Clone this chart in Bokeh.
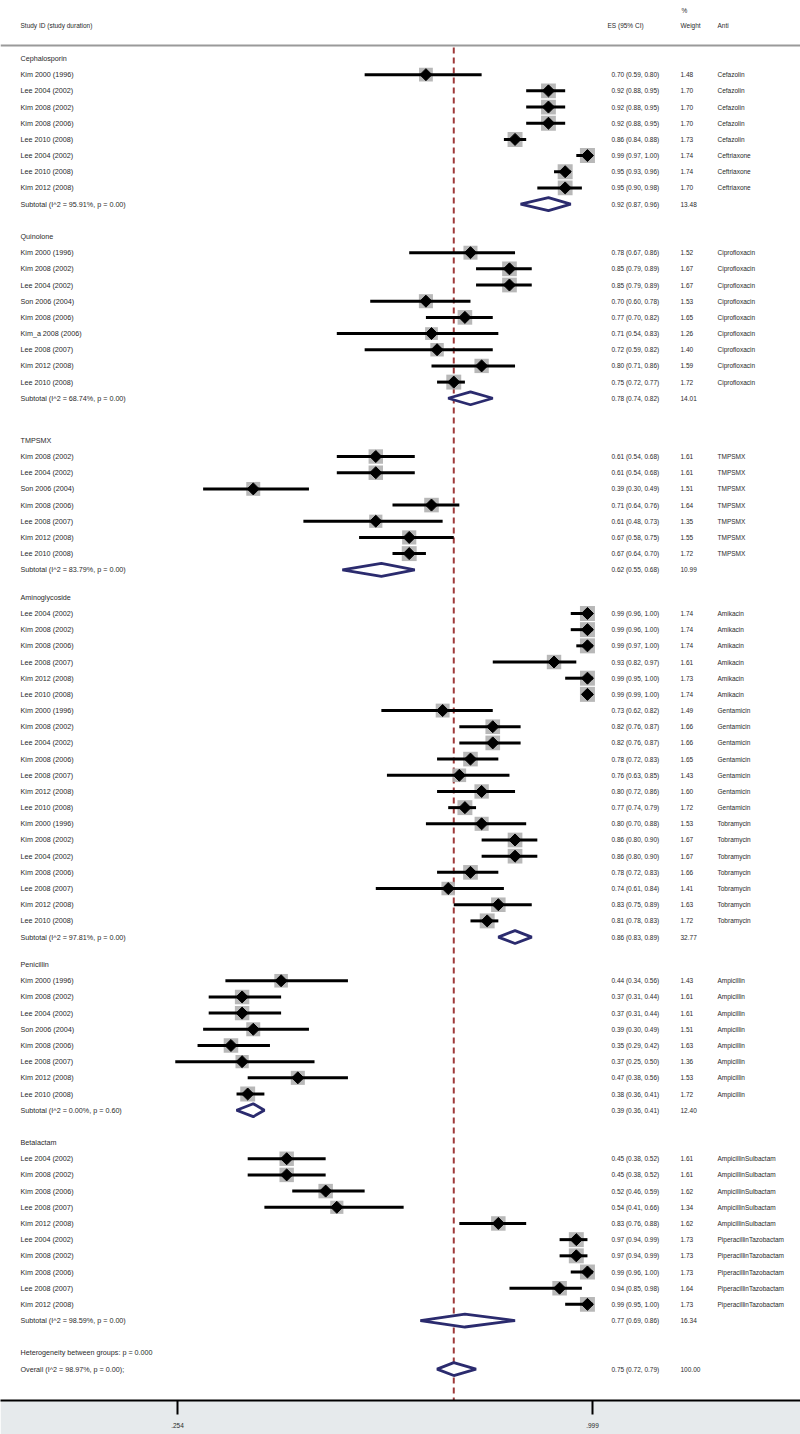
import math
from bokeh.plotting import figure
from bokeh.models import Range1d, FixedTicker, ColumnDataSource, Span
from bokeh.core.properties import value
from bokeh.embed import file_html
from bokeh.resources import INLINE

# ---------------- data ----------------
groups = ["Cephalosporin", "Quinolone", "TMPSMX", "Aminoglycoside", "Penicillin", "Betalactam"]

study_group = (["Cephalosporin"] * 8 + ["Quinolone"] * 9 + ["TMPSMX"] * 7 +
               ["Aminoglycoside"] * 20 + ["Penicillin"] * 8 + ["Betalactam"] * 10)

study_id = [
    "Kim 2000 (1996)", "Lee 2004 (2002)", "Kim 2008 (2002)", "Kim 2008 (2006)",
    "Lee 2010 (2008)", "Lee 2004 (2002)", "Lee 2010 (2008)", "Kim 2012 (2008)",
    "Kim 2000 (1996)", "Kim 2008 (2002)", "Lee 2004 (2002)", "Son 2006 (2004)",
    "Kim 2008 (2006)", "Kim_a 2008 (2006)", "Lee 2008 (2007)", "Kim 2012 (2008)",
    "Lee 2010 (2008)",
    "Kim 2008 (2002)", "Lee 2004 (2002)", "Son 2006 (2004)", "Kim 2008 (2006)",
    "Lee 2008 (2007)", "Kim 2012 (2008)", "Lee 2010 (2008)",
    "Lee 2004 (2002)", "Kim 2008 (2002)", "Kim 2008 (2006)", "Lee 2008 (2007)",
    "Kim 2012 (2008)", "Lee 2010 (2008)", "Kim 2000 (1996)", "Kim 2008 (2002)",
    "Lee 2004 (2002)", "Kim 2008 (2006)", "Lee 2008 (2007)", "Kim 2012 (2008)",
    "Lee 2010 (2008)", "Kim 2000 (1996)", "Kim 2008 (2002)", "Lee 2004 (2002)",
    "Kim 2008 (2006)", "Lee 2008 (2007)", "Kim 2012 (2008)", "Lee 2010 (2008)",
    "Kim 2000 (1996)", "Kim 2008 (2002)", "Lee 2004 (2002)", "Son 2006 (2004)",
    "Kim 2008 (2006)", "Lee 2008 (2007)", "Kim 2012 (2008)", "Lee 2010 (2008)",
    "Lee 2004 (2002)", "Kim 2008 (2002)", "Kim 2008 (2006)", "Lee 2008 (2007)",
    "Kim 2012 (2008)", "Lee 2004 (2002)", "Kim 2008 (2002)", "Kim 2008 (2006)",
    "Lee 2008 (2007)", "Kim 2012 (2008)",
]

study_es = [
    0.70, 0.92, 0.92, 0.92, 0.86, 0.99, 0.95, 0.95,
    0.78, 0.85, 0.85, 0.70, 0.77, 0.71, 0.72, 0.80, 0.75,
    0.61, 0.61, 0.39, 0.71, 0.61, 0.67, 0.67,
    0.99, 0.99, 0.99, 0.93, 0.99, 0.99, 0.73, 0.82, 0.82, 0.78, 0.76, 0.80, 0.77,
    0.80, 0.86, 0.86, 0.78, 0.74, 0.83, 0.81,
    0.44, 0.37, 0.37, 0.39, 0.35, 0.37, 0.47, 0.38,
    0.45, 0.45, 0.52, 0.54, 0.83, 0.97, 0.97, 0.99, 0.94, 0.99,
]
study_lo = [
    0.59, 0.88, 0.88, 0.88, 0.84, 0.97, 0.93, 0.90,
    0.67, 0.79, 0.79, 0.60, 0.70, 0.54, 0.59, 0.71, 0.72,
    0.54, 0.54, 0.30, 0.64, 0.48, 0.58, 0.64,
    0.96, 0.96, 0.97, 0.82, 0.95, 0.99, 0.62, 0.76, 0.76, 0.72, 0.63, 0.72, 0.74,
    0.70, 0.80, 0.80, 0.72, 0.61, 0.75, 0.78,
    0.34, 0.31, 0.31, 0.30, 0.29, 0.25, 0.38, 0.36,
    0.38, 0.38, 0.46, 0.41, 0.76, 0.94, 0.94, 0.96, 0.85, 0.95,
]
study_hi = [
    0.80, 0.95, 0.95, 0.95, 0.88, 1.00, 0.96, 0.98,
    0.86, 0.89, 0.89, 0.78, 0.82, 0.83, 0.82, 0.86, 0.77,
    0.68, 0.68, 0.49, 0.76, 0.73, 0.75, 0.70,
    1.00, 1.00, 1.00, 0.97, 1.00, 1.00, 0.82, 0.87, 0.87, 0.83, 0.85, 0.86, 0.79,
    0.88, 0.90, 0.90, 0.83, 0.84, 0.89, 0.83,
    0.56, 0.44, 0.44, 0.49, 0.42, 0.50, 0.56, 0.41,
    0.52, 0.52, 0.59, 0.66, 0.88, 0.99, 0.99, 1.00, 0.98, 1.00,
]
study_weight = [
    1.48, 1.70, 1.70, 1.70, 1.73, 1.74, 1.74, 1.70,
    1.52, 1.67, 1.67, 1.53, 1.65, 1.26, 1.40, 1.59, 1.72,
    1.61, 1.61, 1.51, 1.64, 1.35, 1.55, 1.72,
    1.74, 1.74, 1.74, 1.61, 1.73, 1.74, 1.49, 1.66, 1.66, 1.65, 1.43, 1.60, 1.72,
    1.53, 1.67, 1.67, 1.66, 1.41, 1.63, 1.72,
    1.43, 1.61, 1.61, 1.51, 1.63, 1.36, 1.53, 1.72,
    1.61, 1.61, 1.62, 1.34, 1.62, 1.73, 1.73, 1.73, 1.64, 1.73,
]
study_anti = (["Cefazolin"] * 5 + ["Ceftriaxone"] * 3 + ["Ciprofloxacin"] * 9 +
              ["TMPSMX"] * 7 + ["Amikacin"] * 6 + ["Gentamicin"] * 7 + ["Tobramycin"] * 7 +
              ["Ampicillin"] * 8 + ["AmpicillinSulbactam"] * 5 + ["PiperacillinTazobactam"] * 5)

sub_label = [
    "Subtotal  (I^2 = 95.91%, p = 0.00)", "Subtotal  (I^2 = 68.74%, p = 0.00)",
    "Subtotal  (I^2 = 83.79%, p = 0.00)", "Subtotal  (I^2 = 97.81%, p = 0.00)",
    "Subtotal  (I^2 = 0.00%, p = 0.60)", "Subtotal  (I^2 = 98.59%, p = 0.00)",
]
sub_es = [0.92, 0.78, 0.62, 0.86, 0.39, 0.77]
sub_lo = [0.87, 0.74, 0.55, 0.83, 0.36, 0.69]
sub_hi = [0.96, 0.82, 0.68, 0.89, 0.41, 0.86]
sub_weight = [13.48, 14.01, 10.99, 32.77, 12.40, 16.34]

heterogeneity_text = "Heterogeneity between groups: p = 0.000"
overall_label = "Overall  (I^2 = 98.97%, p = 0.00);"
overall_es, overall_lo, overall_hi, overall_weight = 0.75, 0.72, 0.79, 100.00

tick_values = [0.254, 0.999]
tick_labels = [".254", ".999"]

header_cols = ["Study ID (study duration)", "ES (95% CI)", "Weight", "Anti"]

# ---------------- layout ----------------
FRAME_W, FRAME_H = 800, 1400
PAGE_LEFT, PAGE_TOP = 0, 0
X_PX0, X_V0, X_PX_PER_V = 177.0, 0.254, 557.0
ROW0_PX, ROW_PX = 58.0, 16.18
gap_rows = [0, 2.0, 2.6, 1.7, 1.7, 2.0]
het_gap = 2.0

def v_at(px):
    return X_V0 + (px - X_PX0) / X_PX_PER_V

def r_at(py):
    return (py - ROW0_PX) / ROW_PX

FONT = value("Liberation Sans")
TXT = "#2a2a2a"

# compute rows
label_text, label_row = [], []
st_rows, sub_rows = [], []
r = 0.0
idx = 0
for gi, g in enumerate(groups):
    r += gap_rows[gi]
    label_text.append(g); label_row.append(r)
    n = study_group.count(g)
    for k in range(n):
        r += 1
        st_rows.append(r)
        label_text.append(study_id[idx]); label_row.append(r)
        idx += 1
    r += 1
    sub_rows.append(r)
    label_text.append(sub_label[gi]); label_row.append(r)
het_row = r + het_gap
overall_row = het_row + 1
label_text += [heterogeneity_text, overall_label]
label_row += [het_row, overall_row]

p = figure(frame_width=FRAME_W, frame_height=FRAME_H,
           x_range=Range1d(v_at(PAGE_LEFT), v_at(PAGE_LEFT + FRAME_W)),
           y_range=Range1d(r_at(PAGE_TOP + FRAME_H), r_at(PAGE_TOP)),
           output_backend="svg", toolbar_location=None, min_border=0,
           min_border_bottom=34,
           y_axis_location=None, x_axis_location="below")
p.xgrid.visible = False
p.ygrid.visible = False
p.outline_line_color = None
p.background_fill_color = "white"
p.border_fill_color = "#e6eaec"

# header rule
p.add_layout(Span(location=r_at(45), dimension="width", line_color="#9a9a9a", line_width=2))

# dashed overall line
p.segment(x0=[overall_es], y0=[r_at(47)], x1=[overall_es], y1=[r_at(PAGE_TOP + FRAME_H)],
          line_color="#9e3a3a", line_width=2, line_dash="6 4")

# study boxes, CI lines, points
box_sizes = [15.0 * math.sqrt(w / 1.74) for w in study_weight]
src = ColumnDataSource(dict(es=study_es, lo=study_lo, hi=study_hi, row=st_rows, size=box_sizes))
p.scatter(x="es", y="row", size="size", marker="square", source=src,
          fill_color="#b0b0b0", line_color=None, fill_alpha=0.9)
p.segment(x0="lo", y0="row", x1="hi", y1="row", source=src, line_color="black", line_width=3)
p.scatter(x="es", y="row", size=8.5, marker="square", angle=math.pi / 4, source=src,
          fill_color="black", line_color="black")

# subtotal + overall diamonds
h = 0.4
xs = [[lo, es, hi, es] for lo, es, hi in zip(sub_lo + [overall_lo], sub_es + [overall_es], sub_hi + [overall_hi])]
ys = [[rr, rr - h, rr, rr + h] for rr in sub_rows + [overall_row]]
p.patches(xs=xs, ys=ys, fill_color="white", line_color="#2b2b6e", line_width=2.8)

# left labels
p.text(x=[v_at(20)] * len(label_text), y=label_row, text=label_text,
       text_font=FONT, text_font_size="7.2px", text_color=TXT,
       text_baseline="middle", text_align="left")

# ES, weight, anti columns
es_text = ["%.2f (%.2f, %.2f)" % (e, l, u) for e, l, u in zip(study_es, study_lo, study_hi)]
es_text += ["%.2f (%.2f, %.2f)" % (e, l, u) for e, l, u in zip(sub_es, sub_lo, sub_hi)]
es_text.append("%.2f (%.2f, %.2f)" % (overall_es, overall_lo, overall_hi))
w_text = ["%.2f" % w for w in study_weight] + ["%.2f" % w for w in sub_weight] + ["%.2f" % overall_weight]
num_rows = st_rows + sub_rows + [overall_row]
p.text(x=[v_at(611)] * len(es_text), y=num_rows, text=es_text,
       text_font=FONT, text_font_size="6.5px", text_color=TXT,
       text_baseline="middle", text_align="left")
p.text(x=[v_at(680)] * len(w_text), y=num_rows, text=w_text,
       text_font=FONT, text_font_size="6.5px", text_color=TXT,
       text_baseline="middle", text_align="left")
p.text(x=[v_at(717)] * len(study_anti), y=st_rows, text=study_anti,
       text_font=FONT, text_font_size="6.5px", text_color=TXT,
       text_baseline="middle", text_align="left")

# header texts
p.text(x=[v_at(20), v_at(607), v_at(680), v_at(717)], y=[r_at(25)] * 4, text=header_cols,
       text_font=FONT, text_font_size="6.5px", text_color=TXT,
       text_baseline="middle", text_align="left")
p.text(x=[v_at(681)], y=[r_at(10)], text=["%"],
       text_font=FONT, text_font_size="6.5px", text_color=TXT,
       text_baseline="middle", text_align="left")

# bottom axis
ax = p.xaxis[0]
ax.ticker = FixedTicker(ticks=tick_values)
ax.major_label_overrides = {t: l for t, l in zip(tick_values, tick_labels)}
ax.axis_line_width = 2
ax.axis_line_color = "black"
ax.major_tick_line_width = 2
ax.major_tick_line_color = "black"
ax.major_tick_out = 14
ax.major_tick_in = 0
ax.minor_tick_out = 0
ax.minor_tick_in = 0
ax.major_label_standoff = 8
ax.major_label_text_font = "Liberation Sans"
ax.major_label_text_font_size = "6.5px"
ax.major_label_text_color = TXT

open("out.html", "w").write(file_html(p, INLINE))
